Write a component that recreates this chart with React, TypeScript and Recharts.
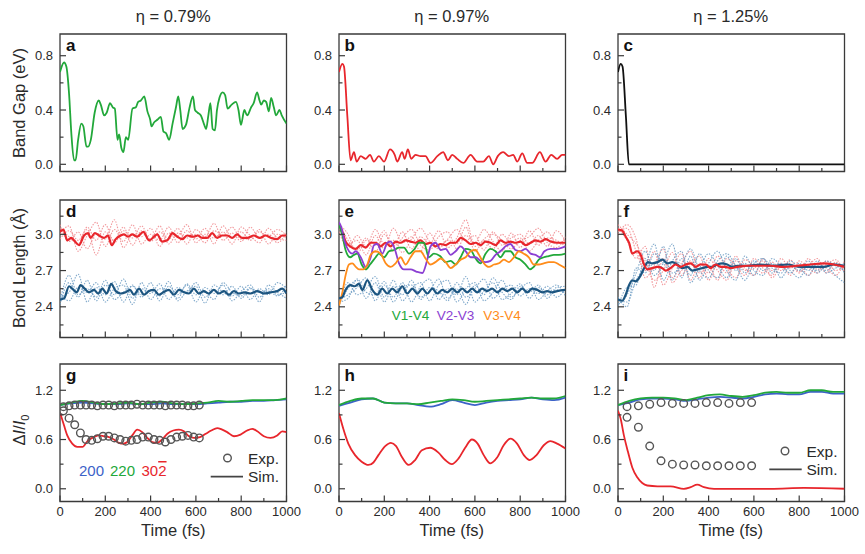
import React from "react";
import { LineChart, Line, XAxis, YAxis, ReferenceArea } from "recharts";

// ---- data (time in fs) ----
const gapA: number[][] = [
  [0, 0.68], [18, 0.75], [28, 0.72], [40, 0.52], [50, 0.23], [62, 0.03], [69, 0.03], [80, 0.18], [94, 0.3], [103, 0.28],
  [117, 0.13], [124, 0.13], [136, 0.18], [153, 0.38], [171, 0.47], [180, 0.44], [195, 0.36], [206, 0.38], [221, 0.45],
  [233, 0.42], [242, 0.41], [254, 0.18], [261, 0.22], [271, 0.12], [280, 0.09], [291, 0.2], [301, 0.18], [320, 0.41],
  [335, 0.42], [345, 0.46], [357, 0.47], [372, 0.5], [386, 0.39], [398, 0.33], [404, 0.28], [416, 0.31], [431, 0.33],
  [445, 0.35], [457, 0.24], [468, 0.23], [482, 0.18], [497, 0.3], [512, 0.42], [522, 0.5], [531, 0.4], [541, 0.26],
  [556, 0.29], [571, 0.41], [587, 0.5], [596, 0.4], [608, 0.38], [622, 0.36], [637, 0.29], [645, 0.26], [655, 0.36],
  [664, 0.45], [674, 0.26], [684, 0.25], [693, 0.4], [704, 0.49], [718, 0.53], [729, 0.51], [740, 0.41], [758, 0.44],
  [777, 0.46], [788, 0.4], [799, 0.29], [814, 0.4], [826, 0.36], [844, 0.42], [855, 0.45], [870, 0.53], [881, 0.47],
  [888, 0.44], [900, 0.47], [910, 0.46], [922, 0.39], [932, 0.49], [944, 0.42], [954, 0.36], [969, 0.4], [979, 0.36],
  [1000, 0.3],
];
const gapB: number[][] = [
  [0, 0.68], [15, 0.74], [22, 0.72], [37, 0.35], [51, 0.03], [66, 0.09], [78, 0.02], [96, 0.06], [118, 0.04], [137, 0.07],
  [154, 0.02], [176, 0.06], [199, 0.02], [225, 0.11], [246, 0.07], [257, 0.02], [279, 0.09], [290, 0.04], [304, 0.11],
  [319, 0.04], [338, 0.07], [360, 0.06], [382, 0.06], [404, 0.01], [434, 0.06], [460, 0.09], [481, 0.03], [500, 0.07],
  [522, 0.04], [549, 0.01], [581, 0.07], [610, 0.02], [637, 0.02], [662, 0.06], [681, 0.0], [701, 0.06], [725, 0.09],
  [750, 0.06], [769, 0.07], [787, 0.02], [809, 0.08], [831, 0.01], [853, 0.01], [887, 0.09], [912, 0.02], [937, 0.07],
  [963, 0.04], [985, 0.07], [1000, 0.07],
];
const gapC: number[][] = [[0, 0.68], [12, 0.74], [20, 0.72], [35, 0.35], [48, 0.0], [200, 0.0], [600, 0.0], [1000, 0.0]];

const bondD_red: number[][] = [
  [0, 3.02], [15, 3.04], [32, 2.95], [50, 2.97], [62, 2.95], [84, 2.91], [106, 2.99], [124, 3.01], [135, 2.97], [154, 3.01],
  [172, 2.99], [194, 2.97], [212, 2.99], [228, 2.91], [246, 2.96], [268, 2.99], [282, 3.0], [300, 2.98], [319, 3.0],
  [341, 2.98], [368, 3.02], [393, 2.95], [415, 2.98], [429, 3.0], [451, 2.94], [474, 2.95], [496, 3.01], [518, 2.98],
  [540, 2.96], [562, 2.99], [588, 2.98], [609, 2.99], [628, 2.97], [650, 2.97], [672, 3.01], [694, 2.97], [716, 2.99],
  [738, 2.99], [760, 2.97], [782, 3.0], [804, 2.97], [826, 2.97], [856, 2.99], [882, 2.97], [907, 2.99], [932, 2.97],
  [959, 2.96], [981, 2.99], [1000, 2.99],
];
const bondD_blue: number[][] = [
  [0, 2.46], [18, 2.47], [40, 2.57], [54, 2.55], [74, 2.52], [91, 2.58], [109, 2.55], [128, 2.52], [150, 2.54], [168, 2.51],
  [187, 2.55], [206, 2.51], [226, 2.59], [246, 2.53], [268, 2.51], [290, 2.52], [309, 2.54], [326, 2.5], [349, 2.55],
  [371, 2.5], [393, 2.53], [415, 2.54], [437, 2.5], [456, 2.52], [481, 2.54], [503, 2.5], [525, 2.54], [547, 2.52],
  [569, 2.51], [591, 2.55], [613, 2.51], [635, 2.53], [657, 2.51], [679, 2.54], [701, 2.51], [724, 2.53], [746, 2.5],
  [768, 2.53], [790, 2.51], [812, 2.52], [841, 2.51], [871, 2.53], [900, 2.51], [929, 2.52], [959, 2.53], [981, 2.55],
  [1000, 2.51],
];
const bondE_red: number[][] = [
  [0, 3.08], [15, 3.02], [29, 2.94], [49, 2.9], [74, 2.88], [96, 2.91], [118, 2.89], [140, 2.93], [162, 2.93], [184, 2.9],
  [206, 2.93], [228, 2.9], [250, 2.94], [272, 2.93], [294, 2.95], [316, 2.94], [338, 2.93], [360, 2.95], [382, 2.92],
  [404, 2.93], [426, 2.9], [449, 2.92], [471, 2.91], [493, 2.93], [515, 2.93], [537, 2.97], [559, 2.95], [581, 2.92],
  [603, 2.93], [625, 2.91], [647, 2.94], [669, 2.93], [691, 2.91], [713, 2.95], [735, 2.93], [757, 2.94], [779, 2.93],
  [801, 2.94], [824, 2.91], [846, 2.93], [868, 2.95], [890, 2.94], [912, 2.96], [934, 2.94], [963, 2.93], [1000, 2.93],
];
const bondE_v14: number[][] = [
  [0, 3.08], [15, 2.99], [29, 2.87], [49, 2.81], [66, 2.83], [81, 2.84], [100, 2.75], [118, 2.71], [137, 2.75], [162, 2.81],
  [176, 2.84], [199, 2.81], [221, 2.86], [243, 2.87], [265, 2.89], [287, 2.89], [309, 2.84], [334, 2.88], [353, 2.93],
  [375, 2.93], [397, 2.81], [419, 2.84], [446, 2.82], [471, 2.77], [493, 2.78], [515, 2.75], [537, 2.81], [559, 2.88],
  [581, 2.87], [603, 2.8], [625, 2.76], [647, 2.84], [669, 2.88], [691, 2.86], [713, 2.81], [735, 2.86], [757, 2.86],
  [779, 2.81], [801, 2.79], [824, 2.75], [843, 2.71], [860, 2.73], [882, 2.79], [904, 2.81], [926, 2.82], [949, 2.83],
  [971, 2.83], [1000, 2.84],
];
const bondE_v23: number[][] = [
  [0, 3.1], [10, 3.06], [25, 2.94], [44, 2.86], [59, 2.84], [74, 2.86], [96, 2.81], [118, 2.73], [140, 2.81], [154, 2.91],
  [169, 2.92], [191, 2.84], [213, 2.93], [228, 2.94], [246, 2.88], [265, 2.76], [287, 2.71], [316, 2.71], [343, 2.69],
  [368, 2.68], [387, 2.77], [404, 2.9], [426, 2.93], [449, 2.87], [471, 2.88], [493, 2.83], [515, 2.86], [537, 2.9],
  [559, 2.86], [581, 2.81], [603, 2.81], [625, 2.78], [647, 2.77], [669, 2.78], [691, 2.83], [713, 2.86], [735, 2.9],
  [757, 2.92], [779, 2.87], [801, 2.86], [824, 2.88], [846, 2.84], [868, 2.83], [887, 2.81], [907, 2.86], [934, 2.88],
  [963, 2.88], [1000, 2.9],
];
const bondE_v34: number[][] = [
  [0, 2.41], [15, 2.52], [29, 2.66], [44, 2.75], [59, 2.76], [74, 2.73], [88, 2.71], [107, 2.71], [125, 2.75], [140, 2.83],
  [162, 2.86], [184, 2.84], [206, 2.76], [228, 2.73], [250, 2.76], [272, 2.81], [294, 2.75], [316, 2.81], [338, 2.86],
  [360, 2.86], [382, 2.8], [404, 2.75], [426, 2.77], [449, 2.8], [471, 2.77], [493, 2.72], [515, 2.75], [537, 2.79],
  [559, 2.81], [581, 2.86], [603, 2.87], [618, 2.83], [640, 2.76], [662, 2.73], [684, 2.75], [706, 2.76], [728, 2.79],
  [750, 2.77], [772, 2.81], [794, 2.86], [816, 2.84], [838, 2.81], [860, 2.75], [882, 2.75], [904, 2.76], [926, 2.77],
  [949, 2.77], [971, 2.75], [1000, 2.72],
];
const bondE_blue: number[][] = [
  [0, 2.47], [15, 2.48], [29, 2.54], [51, 2.58], [69, 2.57], [88, 2.59], [103, 2.54], [125, 2.62], [147, 2.54], [169, 2.5],
  [191, 2.55], [213, 2.51], [235, 2.55], [257, 2.52], [279, 2.57], [301, 2.51], [324, 2.55], [346, 2.51], [368, 2.55],
  [390, 2.51], [412, 2.55], [434, 2.51], [456, 2.54], [478, 2.52], [500, 2.55], [522, 2.52], [544, 2.55], [566, 2.52],
  [588, 2.55], [610, 2.52], [632, 2.55], [654, 2.53], [676, 2.55], [699, 2.52], [721, 2.55], [743, 2.53], [765, 2.55],
  [787, 2.52], [809, 2.55], [831, 2.52], [853, 2.55], [875, 2.54], [897, 2.52], [919, 2.53], [941, 2.52], [963, 2.53],
  [1000, 2.54],
];
const bondF_red: number[][] = [
  [0, 3.04], [19, 3.03], [34, 2.98], [49, 2.93], [63, 2.84], [85, 2.86], [100, 2.83], [115, 2.75], [129, 2.71], [151, 2.72],
  [174, 2.73], [196, 2.72], [210, 2.7], [232, 2.72], [254, 2.75], [276, 2.73], [299, 2.75], [321, 2.76], [343, 2.73],
  [365, 2.75], [387, 2.75], [409, 2.72], [431, 2.75], [453, 2.73], [475, 2.73], [497, 2.72], [526, 2.73], [571, 2.74],
  [615, 2.74], [674, 2.74], [732, 2.73], [791, 2.74], [850, 2.75], [909, 2.76], [953, 2.75], [1000, 2.73],
];
const bondF_blue: number[][] = [
  [0, 2.46], [19, 2.45], [34, 2.5], [49, 2.58], [63, 2.62], [78, 2.61], [100, 2.66], [118, 2.73], [132, 2.77], [151, 2.76],
  [174, 2.77], [196, 2.79], [218, 2.76], [240, 2.77], [262, 2.75], [284, 2.72], [306, 2.73], [328, 2.7], [350, 2.71],
  [372, 2.72], [394, 2.73], [416, 2.73], [438, 2.75], [460, 2.76], [482, 2.75], [504, 2.73], [526, 2.74], [571, 2.74],
  [629, 2.75], [688, 2.74], [747, 2.75], [806, 2.73], [865, 2.73], [909, 2.73], [953, 2.75], [1000, 2.74],
];

// individual trajectories (dotted), sampled every 40 fs
const tDot = [0, 40, 80, 120, 160, 200, 240, 280, 320, 360, 400, 440, 480, 520, 560, 600, 640, 680, 720, 760, 800, 840, 880, 920, 960, 1000];
const dotD_red = [
  [3.05, 2.98, 2.92, 3.06, 2.95, 3.08, 2.93, 3.03, 2.97, 3.07, 2.94, 3.02, 2.96, 3.05, 2.92, 3.04, 2.98, 3.09, 2.95, 3.01, 2.94, 3.06, 2.97, 3.0, 2.93, 3.02],
  [3.0, 3.07, 2.86, 2.99, 3.1, 2.9, 3.04, 2.94, 3.08, 2.92, 3.0, 2.95, 3.06, 2.93, 3.03, 2.96, 3.05, 2.92, 3.07, 2.97, 3.02, 2.95, 3.04, 2.92, 3.0, 2.97],
  [3.08, 2.94, 3.02, 2.88, 3.01, 2.96, 3.12, 2.89, 3.0, 2.98, 3.05, 2.9, 3.01, 2.99, 3.08, 2.93, 3.0, 2.97, 3.02, 2.92, 3.06, 2.99, 2.93, 3.05, 2.97, 2.95],
  [2.96, 3.03, 2.95, 3.04, 2.83, 3.02, 2.95, 3.06, 2.91, 3.03, 2.96, 3.07, 2.92, 3.01, 2.97, 3.0, 2.93, 3.03, 2.99, 3.06, 2.96, 2.97, 3.02, 2.98, 3.04, 2.99],
];
const dotD_blue = [
  [2.42, 2.6, 2.48, 2.62, 2.45, 2.58, 2.5, 2.63, 2.47, 2.55, 2.51, 2.59, 2.46, 2.56, 2.52, 2.6, 2.48, 2.54, 2.5, 2.57, 2.47, 2.55, 2.52, 2.53, 2.49, 2.58],
  [2.48, 2.52, 2.67, 2.44, 2.56, 2.5, 2.61, 2.44, 2.58, 2.48, 2.6, 2.45, 2.57, 2.5, 2.58, 2.44, 2.56, 2.51, 2.58, 2.45, 2.53, 2.58, 2.48, 2.55, 2.5, 2.52],
  [2.5, 2.45, 2.56, 2.52, 2.6, 2.44, 2.55, 2.58, 2.42, 2.6, 2.46, 2.55, 2.53, 2.47, 2.59, 2.5, 2.52, 2.46, 2.6, 2.52, 2.49, 2.56, 2.44, 2.58, 2.52, 2.47],
  [2.45, 2.66, 2.5, 2.55, 2.48, 2.62, 2.46, 2.52, 2.57, 2.5, 2.54, 2.49, 2.61, 2.45, 2.53, 2.57, 2.43, 2.58, 2.52, 2.49, 2.57, 2.46, 2.55, 2.5, 2.6, 2.55],
];
const dotE_red = [
  [3.1, 2.95, 2.87, 2.97, 2.85, 3.0, 2.9, 3.02, 2.88, 2.98, 2.92, 3.03, 2.89, 2.97, 3.12, 2.9, 2.95, 2.88, 3.0, 2.93, 2.97, 2.86, 2.95, 3.02, 2.92, 2.96],
  [3.05, 2.92, 2.95, 2.83, 2.99, 2.88, 3.05, 2.93, 2.98, 2.86, 3.01, 2.9, 2.96, 3.04, 2.95, 2.99, 2.87, 3.02, 2.91, 2.97, 3.0, 2.92, 2.99, 2.9, 3.03, 2.94],
  [3.08, 3.0, 2.84, 2.95, 2.93, 3.03, 2.86, 2.97, 3.04, 2.91, 2.87, 2.98, 3.02, 2.88, 2.99, 2.93, 3.04, 2.94, 2.86, 3.01, 2.89, 3.03, 2.91, 2.97, 2.95, 2.9],
  [3.02, 2.89, 2.99, 2.9, 3.04, 2.92, 2.95, 2.85, 2.96, 3.05, 2.94, 2.88, 2.95, 2.92, 3.06, 2.86, 2.96, 3.0, 2.95, 2.88, 2.95, 2.98, 3.05, 2.93, 2.89, 2.98],
];
const dotE_blue = [
  [2.42, 2.55, 2.62, 2.47, 2.6, 2.44, 2.57, 2.5, 2.62, 2.46, 2.56, 2.53, 2.45, 2.6, 2.48, 2.55, 2.63, 2.47, 2.54, 2.58, 2.49, 2.55, 2.51, 2.57, 2.48, 2.55],
  [2.46, 2.5, 2.56, 2.64, 2.45, 2.58, 2.48, 2.6, 2.44, 2.57, 2.63, 2.46, 2.55, 2.5, 2.65, 2.44, 2.53, 2.6, 2.46, 2.51, 2.59, 2.47, 2.56, 2.5, 2.54, 2.52],
  [2.4, 2.6, 2.5, 2.55, 2.65, 2.48, 2.62, 2.45, 2.55, 2.6, 2.45, 2.58, 2.62, 2.44, 2.55, 2.6, 2.45, 2.52, 2.62, 2.48, 2.55, 2.6, 2.46, 2.53, 2.58, 2.49],
  [2.44, 2.47, 2.63, 2.52, 2.5, 2.61, 2.44, 2.56, 2.58, 2.48, 2.53, 2.63, 2.47, 2.55, 2.42, 2.58, 2.5, 2.64, 2.52, 2.46, 2.57, 2.52, 2.58, 2.47, 2.56, 2.57],
];
const dotF_red = [
  [3.08, 3.0, 2.92, 2.78, 2.62, 2.7, 2.85, 2.66, 2.78, 2.64, 2.8, 2.7, 2.62, 2.78, 2.72, 2.66, 2.8, 2.7, 2.76, 2.66, 2.78, 2.72, 2.68, 2.78, 2.7, 2.74],
  [3.02, 3.05, 2.86, 2.7, 2.86, 2.58, 2.72, 2.84, 2.62, 2.76, 2.68, 2.82, 2.72, 2.64, 2.79, 2.74, 2.68, 2.77, 2.7, 2.79, 2.69, 2.74, 2.8, 2.68, 2.77, 2.7],
  [3.05, 2.95, 2.8, 2.9, 2.56, 2.8, 2.64, 2.76, 2.86, 2.68, 2.74, 2.62, 2.8, 2.74, 2.66, 2.8, 2.72, 2.66, 2.8, 2.72, 2.75, 2.66, 2.74, 2.72, 2.66, 2.78],
  [3.0, 3.08, 2.96, 2.64, 2.74, 2.88, 2.6, 2.7, 2.74, 2.82, 2.62, 2.76, 2.68, 2.82, 2.7, 2.72, 2.78, 2.64, 2.74, 2.76, 2.68, 2.8, 2.71, 2.75, 2.79, 2.68],
];
const dotF_blue = [
  [2.42, 2.5, 2.68, 2.86, 2.7, 2.9, 2.62, 2.8, 2.66, 2.84, 2.7, 2.64, 2.82, 2.7, 2.76, 2.66, 2.8, 2.72, 2.68, 2.78, 2.72, 2.66, 2.76, 2.7, 2.76, 2.68],
  [2.46, 2.44, 2.62, 2.74, 2.92, 2.62, 2.78, 2.86, 2.6, 2.72, 2.84, 2.74, 2.64, 2.8, 2.68, 2.78, 2.7, 2.76, 2.64, 2.74, 2.7, 2.78, 2.68, 2.74, 2.66, 2.6],
  [2.4, 2.56, 2.58, 2.8, 2.66, 2.76, 2.92, 2.64, 2.82, 2.62, 2.76, 2.86, 2.7, 2.62, 2.82, 2.7, 2.66, 2.8, 2.74, 2.68, 2.76, 2.7, 2.78, 2.68, 2.72, 2.76],
  [2.48, 2.4, 2.72, 2.68, 2.84, 2.76, 2.68, 2.74, 2.88, 2.7, 2.64, 2.78, 2.84, 2.74, 2.62, 2.76, 2.8, 2.68, 2.76, 2.7, 2.64, 2.74, 2.7, 2.78, 2.74, 2.7],
];

// diffraction intensity, simulated (every 50 fs for 200 / 220)
const tSim = [0, 50, 100, 150, 200, 250, 300, 350, 400, 450, 500, 550, 600, 650, 700, 750, 800, 850, 900, 950, 1000];
const simG_200 = [1.02, 1.04, 1.05, 1.04, 1.03, 1.03, 1.04, 1.03, 1.03, 1.04, 1.03, 1.03, 1.03, 1.04, 1.05, 1.06, 1.06, 1.07, 1.07, 1.08, 1.09];
const simG_220 = [1.02, 1.05, 1.07, 1.05, 1.03, 1.04, 1.05, 1.03, 1.05, 1.06, 1.04, 1.03, 1.04, 1.05, 1.07, 1.06, 1.07, 1.08, 1.08, 1.08, 1.1];
const simH_200 = [1.01, 1.05, 1.09, 1.1, 1.05, 1.04, 1.04, 1.02, 1.0, 1.03, 1.08, 1.05, 1.02, 1.05, 1.07, 1.08, 1.09, 1.11, 1.09, 1.08, 1.11];
const simH_220 = [1.02, 1.07, 1.1, 1.1, 1.05, 1.04, 1.04, 1.03, 1.05, 1.07, 1.09, 1.08, 1.06, 1.07, 1.08, 1.09, 1.1, 1.11, 1.1, 1.1, 1.13];
const simI_200 = [1.02, 1.05, 1.09, 1.1, 1.1, 1.09, 1.07, 1.09, 1.11, 1.12, 1.11, 1.1, 1.12, 1.15, 1.16, 1.15, 1.15, 1.18, 1.18, 1.16, 1.16];
const simI_220 = [1.02, 1.07, 1.1, 1.11, 1.11, 1.1, 1.08, 1.11, 1.14, 1.15, 1.13, 1.12, 1.14, 1.17, 1.18, 1.17, 1.17, 1.2, 1.2, 1.18, 1.18];

const simG_302: number[][] = [
  [0, 0.93], [18, 0.77], [32, 0.65], [54, 0.55], [76, 0.51], [99, 0.51], [124, 0.59], [150, 0.63], [172, 0.65], [194, 0.64],
  [216, 0.63], [238, 0.6], [260, 0.56], [279, 0.55], [297, 0.57], [319, 0.65], [341, 0.72], [363, 0.69], [385, 0.62],
  [407, 0.57], [429, 0.56], [451, 0.6], [474, 0.67], [500, 0.71], [525, 0.72], [547, 0.7], [569, 0.64], [591, 0.62],
  [618, 0.63], [643, 0.67], [668, 0.71], [694, 0.74], [716, 0.72], [738, 0.69], [768, 0.64], [797, 0.66], [826, 0.71],
  [849, 0.73], [871, 0.7], [900, 0.64], [929, 0.62], [959, 0.65], [981, 0.7], [1000, 0.69],
];
const simH_302: number[][] = [
  [0, 0.92], [19, 0.73], [41, 0.55], [71, 0.41], [100, 0.33], [130, 0.29], [152, 0.32], [174, 0.41], [204, 0.52], [229, 0.56],
  [252, 0.52], [277, 0.39], [307, 0.29], [336, 0.35], [366, 0.47], [403, 0.5], [439, 0.44], [469, 0.35], [498, 0.3],
  [528, 0.37], [557, 0.5], [587, 0.6], [612, 0.55], [639, 0.41], [668, 0.31], [698, 0.38], [727, 0.53], [757, 0.61],
  [786, 0.55], [816, 0.41], [842, 0.35], [872, 0.41], [904, 0.53], [934, 0.58], [963, 0.55], [1000, 0.49],
];
const simI_302: number[][] = [
  [0, 0.95], [12, 0.85], [26, 0.65], [44, 0.45], [63, 0.26], [85, 0.14], [107, 0.07], [129, 0.04], [174, 0.03], [232, 0.03],
  [291, 0.0], [321, 0.02], [350, 0.05], [379, 0.02], [424, 0.0], [526, 0.0], [674, 0.0], [821, 0.01], [1000, 0.0],
];

// experiment (open circles)
const tExpG = [15, 40, 65, 90, 115, 140, 165, 190, 215, 240, 265, 290, 315, 340, 365, 390, 415, 440, 465, 490, 515, 540, 565, 590, 615];
const expG_up = [1.0, 1.01, 1.02, 1.02, 1.02, 1.02, 1.01, 1.02, 1.02, 1.01, 1.02, 1.02, 1.02, 1.03, 1.02, 1.02, 1.02, 1.02, 1.01, 1.02, 1.02, 1.02, 1.01, 1.01, 1.02];
const expG_low = [0.95, 0.86, 0.78, 0.68, 0.6, 0.59, 0.61, 0.64, 0.64, 0.62, 0.6, 0.58, 0.59, 0.6, 0.63, 0.63, 0.6, 0.59, 0.57, 0.6, 0.63, 0.64, 0.65, 0.63, 0.62];
const tExpI = [40, 90, 140, 190, 240, 290, 340, 390, 440, 490, 540, 590];
const expI_up = [1.0, 1.01, 1.03, 1.05, 1.04, 1.04, 1.04, 1.05, 1.05, 1.04, 1.05, 1.05];
const expI_low = [0.87, 0.75, 0.52, 0.34, 0.3, 0.29, 0.29, 0.28, 0.28, 0.28, 0.28, 0.28];

const xTicks = [0, 100, 200, 300, 400, 500, 600, 700, 800, 900, 1000];
const gapTicks = [0, 0.2, 0.4, 0.6, 0.8];
const gapMajor = [0, 0.4, 0.8];
const bondTicks = [2.25, 2.4, 2.55, 2.7, 2.85, 3.0, 3.15];
const bondMajor = [2.4, 2.7, 3.0];
const intTicks = [0, 0.3, 0.6, 0.9, 1.2];
const intMajor = [0, 0.6, 1.2];

// ---- styling ----
const INK = "#2a2a2a";
const FRAME = "#3a3a3a";
const FONT = "Arial, 'Liberation Sans', sans-serif";
const GREEN = "#22a83a";
const RED = "#e8262c";
const NAVY = "#1c5580";
const LRED = "#f0868b";
const LBLUE = "#6a9ac2";
const BLUE = "#3c62c8";
const PURPLE = "#8b3fd2";
const ORANGE = "#ff8c1a";

const COLS = [60, 338.5, 617.5];
const ROWS = [34, 200, 364];
const PW = 226.5;
const PH = 137.5;
const YW = 50;
const XH = 24;
const MT = 3;
const MR = 18;

const pairs = (p: number[][]) => p.map(([t, v]) => ({ t, v }));
const zip = (ts: number[], vs: number[]) => vs.map((v, i) => ({ t: ts[i], v }));

const makeXTick = (showLabel: boolean) => (props: any) => {
  const { x, y, payload } = props;
  const val = payload.value;
  const major = val % 200 === 0;
  return (
    <g>
      <line x1={x} x2={x} y1={y} y2={y - (major ? 6 : 3.5)} stroke={FRAME} strokeWidth={1.2} />
      {showLabel && major && (
        <text x={x} y={y + 14.5} textAnchor="middle" fontSize={13} fill={INK} fontFamily={FONT}>{val}</text>
      )}
    </g>
  );
};

const makeYTick = (majors: number[]) => (props: any) => {
  const { x, y, payload } = props;
  const val = payload.value;
  const major = majors.some((m) => Math.abs(m - val) < 1e-6);
  return (
    <g>
      <line x1={x} x2={x + (major ? 6 : 3.5)} y1={y} y2={y} stroke={FRAME} strokeWidth={1.2} />
      {major && (
        <text x={x - 7} y={y} dy="0.36em" textAnchor="end" fontSize={13} fill={INK} fontFamily={FONT}>{val.toFixed(1)}</text>
      )}
    </g>
  );
};

function line(key: string, data: { t: number; v: number }[], color: string, width = 1.8, dashed = false) {
  return (
    <Line
      key={key}
      data={data}
      dataKey="v"
      type="monotone"
      stroke={color}
      strokeWidth={width}
      strokeDasharray={dashed ? "1.5 1.3" : undefined}
      strokeOpacity={dashed ? 0.85 : 1}
      dot={false}
      activeDot={false}
      isAnimationActive={false}
    />
  );
}

function circles(key: string, data: { t: number; v: number }[]) {
  return (
    <Line
      key={key}
      data={data}
      dataKey="v"
      stroke="none"
      dot={{ r: 3.8, fill: "none", stroke: "#555", strokeWidth: 1.4 }}
      activeDot={false}
      isAnimationActive={false}
    />
  );
}

function Panel(props: {
  col: number;
  row: number;
  domain: [number, number];
  ticks: number[];
  majors: number[];
  series: React.ReactNode[];
}) {
  const { col, row, domain, ticks, majors, series } = props;
  return (
    <div style={{ position: "absolute", left: COLS[col] - YW, top: ROWS[row] - MT }}>
      <LineChart width={YW + PW + MR} height={MT + PH + XH} margin={{ top: MT, right: MR, bottom: 0, left: 0 }}>
        <XAxis
          type="number"
          dataKey="t"
          domain={[0, 1000]}
          ticks={xTicks}
          interval={0}
          tickSize={0}
          tickMargin={0}
          axisLine={false}
          tickLine={false}
          height={XH}
          tick={makeXTick(row === 2)}
          allowDataOverflow
        />
        <YAxis
          type="number"
          domain={domain}
          ticks={ticks}
          interval={0}
          tickSize={0}
          tickMargin={0}
          axisLine={false}
          tickLine={false}
          width={YW}
          tick={makeYTick(majors)}
          allowDataOverflow
        />
        {series}
        <ReferenceArea x1={0} x2={1000} y1={domain[0]} y2={domain[1]} fill="none" fillOpacity={0} stroke={FRAME} strokeWidth={1.3} ifOverflow="visible" />
      </LineChart>
    </div>
  );
}

const GAP_DOM: [number, number] = [-0.053, 0.96];
const BOND_DOM: [number, number] = [2.146, 3.284];
const INT_DOM: [number, number] = [-0.155, 1.52];

function dotted(prefix: string, sets: number[][], color: string) {
  return sets.map((vs, i) => line(`${prefix}${i}`, zip(tDot, vs), color, 1.1, true));
}

export default function App() {
  const colCenter = (c: number) => COLS[c] + PW / 2;
  const letter = (c: number, r: number, s: string) => (
    <text x={COLS[c] + 6} y={ROWS[r] + 17} fontSize={17} fontWeight="bold" fill="#111">{s}</text>
  );
  return (
    <div style={{ position: "absolute", left: 0, top: 0, width: 865, height: 554, background: "#fff", fontFamily: FONT, overflow: "hidden" }}>
      <Panel col={0} row={0} domain={GAP_DOM} ticks={gapTicks} majors={gapMajor} series={[line("a", pairs(gapA), GREEN)]} />
      <Panel col={1} row={0} domain={GAP_DOM} ticks={gapTicks} majors={gapMajor} series={[line("b", pairs(gapB), RED)]} />
      <Panel col={2} row={0} domain={GAP_DOM} ticks={gapTicks} majors={gapMajor} series={[line("c", pairs(gapC), "#111")]} />

      <Panel
        col={0} row={1} domain={BOND_DOM} ticks={bondTicks} majors={bondMajor}
        series={[
          ...dotted("dr", dotD_red, LRED),
          ...dotted("db", dotD_blue, LBLUE),
          line("dR", pairs(bondD_red), RED, 2.2),
          line("dB", pairs(bondD_blue), NAVY, 2.2),
        ]}
      />
      <Panel
        col={1} row={1} domain={BOND_DOM} ticks={bondTicks} majors={bondMajor}
        series={[
          ...dotted("er", dotE_red, LRED),
          ...dotted("eb", dotE_blue, LBLUE),
          line("eR", pairs(bondE_red), RED, 2.2),
          line("e14", pairs(bondE_v14), GREEN, 1.8),
          line("e23", pairs(bondE_v23), PURPLE, 1.8),
          line("e34", pairs(bondE_v34), ORANGE, 1.8),
          line("eB", pairs(bondE_blue), NAVY, 2.2),
        ]}
      />
      <Panel
        col={2} row={1} domain={BOND_DOM} ticks={bondTicks} majors={bondMajor}
        series={[
          ...dotted("fr", dotF_red, LRED),
          ...dotted("fb", dotF_blue, LBLUE),
          line("fB", pairs(bondF_blue), NAVY, 2.2),
          line("fR", pairs(bondF_red), RED, 2.2),
        ]}
      />

      <Panel
        col={0} row={2} domain={INT_DOM} ticks={intTicks} majors={intMajor}
        series={[
          line("g200", zip(tSim, simG_200), BLUE, 1.8),
          line("g220", zip(tSim, simG_220), GREEN, 1.8),
          line("g302", pairs(simG_302), RED, 1.8),
          circles("gu", zip(tExpG, expG_up)),
          circles("gl", zip(tExpG, expG_low)),
        ]}
      />
      <Panel
        col={1} row={2} domain={INT_DOM} ticks={intTicks} majors={intMajor}
        series={[
          line("h200", zip(tSim, simH_200), BLUE, 1.8),
          line("h220", zip(tSim, simH_220), GREEN, 1.8),
          line("h302", pairs(simH_302), RED, 1.8),
        ]}
      />
      <Panel
        col={2} row={2} domain={INT_DOM} ticks={intTicks} majors={intMajor}
        series={[
          line("i200", zip(tSim, simI_200), BLUE, 1.8),
          line("i220", zip(tSim, simI_220), GREEN, 1.8),
          line("i302", pairs(simI_302), RED, 1.8),
          circles("iu", zip(tExpI, expI_up)),
          circles("il", zip(tExpI, expI_low)),
        ]}
      />

      <svg width={865} height={554} style={{ position: "absolute", left: 0, top: 0, pointerEvents: "none" }} fontFamily={FONT}>
        {["η = 0.79%", "η = 0.97%", "η = 1.25%"].map((s, c) => (
          <text key={s} x={colCenter(c)} y={22} textAnchor="middle" fontSize={16.5} fill={INK}>{s}</text>
        ))}
        <text transform="translate(25,103) rotate(-90)" textAnchor="middle" fontSize={16.5} fill={INK}>Band Gap (eV)</text>
        <text transform="translate(25,268) rotate(-90)" textAnchor="middle" fontSize={16.5} fill={INK}>Bond Length (Å)</text>
        <text transform="translate(25,430) rotate(-90)" textAnchor="middle" fontSize={16.5} fill={INK}>
          <tspan>Δ</tspan><tspan fontStyle="italic">I</tspan><tspan>/</tspan><tspan fontStyle="italic">I</tspan>
          <tspan fontSize={11} dy={4}>0</tspan>
        </text>
        {[0, 1, 2].map((c) => (
          <text key={c} x={colCenter(c)} y={536} textAnchor="middle" fontSize={16.5} fill={INK}>Time (fs)</text>
        ))}
        {letter(0, 0, "a")}{letter(1, 0, "b")}{letter(2, 0, "c")}
        {letter(0, 1, "d")}{letter(1, 1, "e")}{letter(2, 1, "f")}
        {letter(0, 2, "g")}{letter(1, 2, "h")}{letter(2, 2, "i")}

        <text x={391.7} y={320} fontSize={13.5} fill={GREEN}>V1-V4</text>
        <text x={436.7} y={320} fontSize={13.5} fill={PURPLE}>V2-V3</text>
        <text x={483.3} y={320} fontSize={13.5} fill={ORANGE}>V3-V4</text>

        <text x={79} y={476} fontSize={15} fill={BLUE}>200</text>
        <text x={110} y={476} fontSize={15} fill={GREEN}>220</text>
        <text x={141.5} y={476} fontSize={15} fill={RED}>30<tspan style={{ textDecoration: "overline" }}>2</tspan></text>

        <circle cx={227.5} cy={458} r={3.8} fill="none" stroke="#555" strokeWidth={1.4} />
        <text x={248} y={464} fontSize={15.5} fill={INK}>Exp.</text>
        <line x1={210.7} x2={243} y1={476.7} y2={476.7} stroke="#444" strokeWidth={1.8} />
        <text x={248} y={482} fontSize={15.5} fill={INK}>Sim.</text>

        <circle cx={785} cy={451} r={3.8} fill="none" stroke="#555" strokeWidth={1.4} />
        <text x={806.5} y={456.5} fontSize={15.5} fill={INK}>Exp.</text>
        <line x1={769.3} x2={801.7} y1={469.3} y2={469.3} stroke="#444" strokeWidth={1.8} />
        <text x={806.5} y={475} fontSize={15.5} fill={INK}>Sim.</text>
      </svg>
    </div>
  );
}
